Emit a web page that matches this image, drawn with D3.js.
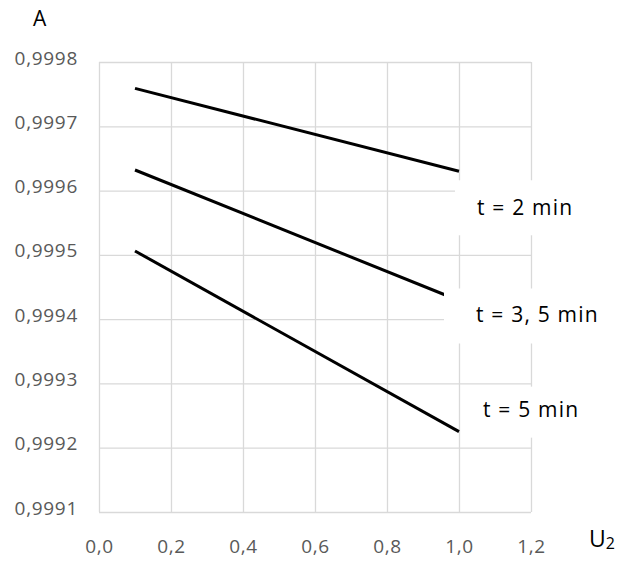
<!DOCTYPE html>
<html>
<head>
<meta charset="utf-8">
<script src="https://cdn.jsdelivr.net/npm/d3@7"></script>
<style>
  body { margin: 0; background: #fff; }
  text { font-family: "Open Sans", sans-serif; }
</style>
</head>
<body>
<div class="chart"></div>
<script>
// Values
var u2 = [0.1, 1.0];
var seriesNames = ["t = 2 min", "t = 3, 5 min", "t = 5 min"];
var seriesValues = [
  [0.999759, 0.999630],
  [0.999632, 0.999429],
  [0.999506, 0.999225]
];
var xTicks = [0, 0.2, 0.4, 0.6, 0.8, 1.0, 1.2];
var yTicks = [0.9991, 0.9992, 0.9993, 0.9994, 0.9995, 0.9996, 0.9997, 0.9998];

var svgWidth = 627, svgHeight = 561;
var margin = { top: 62, right: 96, bottom: 49, left: 99 };
var chartWidth = svgWidth - margin.left - margin.right;
var chartHeight = svgHeight - margin.top - margin.bottom;

var svg = d3.select(".chart").append("svg")
  .attr("width", svgWidth)
  .attr("height", svgHeight);

var chart = svg.append("g")
  .attr("transform", "translate(" + margin.left + "," + margin.top + ")");

var x = d3.scaleLinear().domain([0, 1.2]).range([0, chartWidth]);
var y = d3.scaleLinear().domain([0.9991, 0.9998]).range([chartHeight, 0]);

var comma = function(d, n) { return d.toFixed(n).replace(".", ","); };

// gridlines + tick labels
var xAxis = chart.append("g")
  .attr("transform", "translate(0," + chartHeight + ")")
  .call(d3.axisBottom(x).tickValues(xTicks).tickSize(-chartHeight).tickPadding(28)
    .tickFormat(function(d) { return comma(d, 1); }));
var yAxis = chart.append("g")
  .call(d3.axisLeft(y).tickValues(yTicks).tickSize(-chartWidth).tickPadding(21)
    .tickFormat(function(d) { return comma(d, 4); }));

[xAxis, yAxis].forEach(function(a) {
  a.select(".domain").remove();
  a.selectAll(".tick line").attr("stroke", "#d9d9d9").attr("stroke-width", 1.3);
  a.selectAll(".tick text").attr("fill", "#595959").style("font-size", "19px")
    .style("letter-spacing", "0.7px")
    .style("font-family", "Open Sans, sans-serif");
});
xAxis.selectAll(".tick text").attr("dy", "0.71em");
yAxis.selectAll(".tick text").attr("y", -4);

// the lines
var line = d3.line()
  .x(function(d, i) { return x(u2[i]); })
  .y(function(d) { return y(d); });

chart.selectAll("path.series")
  .data(seriesValues)
  .enter().append("path")
  .attr("class", "series")
  .attr("d", line)
  .attr("fill", "none")
  .attr("stroke", "#000")
  .attr("stroke-width", 3);

// labels with white boxes over the grid
var labelOffsets = [
  { dx: 18, dy: 44, box: [-22, -35, 170, 55] },
  { dx: 17, dy: 21, box: [-32, -33, 170, 55] },
  { dx: 24, dy: -15, box: [-18, -30, 170, 51] }
];

var labels = chart.selectAll("g.lbl")
  .data(seriesValues)
  .enter().append("g")
  .attr("class", "lbl")
  .attr("transform", function(d, i) {
    return "translate(" + (x(u2[1]) + labelOffsets[i].dx) + "," + (y(d[1]) + labelOffsets[i].dy) + ")";
  });

labels.append("rect")
  .attr("x", function(d, i) { return labelOffsets[i].box[0]; })
  .attr("y", function(d, i) { return labelOffsets[i].box[1]; })
  .attr("width", function(d, i) { return labelOffsets[i].box[2]; })
  .attr("height", function(d, i) { return labelOffsets[i].box[3]; })
  .attr("fill", "#fff");

labels.append("text")
  .text(function(d, i) { return seriesNames[i]; })
  .attr("fill", "#000")
  .style("font-size", "21px")
  .style("letter-spacing", "1.2px");

// axis titles
svg.append("text").attr("x", 33).attr("y", 26).text("A")
  .style("font-size", "21px").attr("fill", "#000");
var ut = svg.append("text").attr("x", 589).attr("y", 547)
  .style("font-size", "23px").attr("fill", "#000");
ut.append("tspan").text("U");
ut.append("tspan").text("2").style("font-size", "16px").attr("dy", 2);
</script>
</body>
</html>
